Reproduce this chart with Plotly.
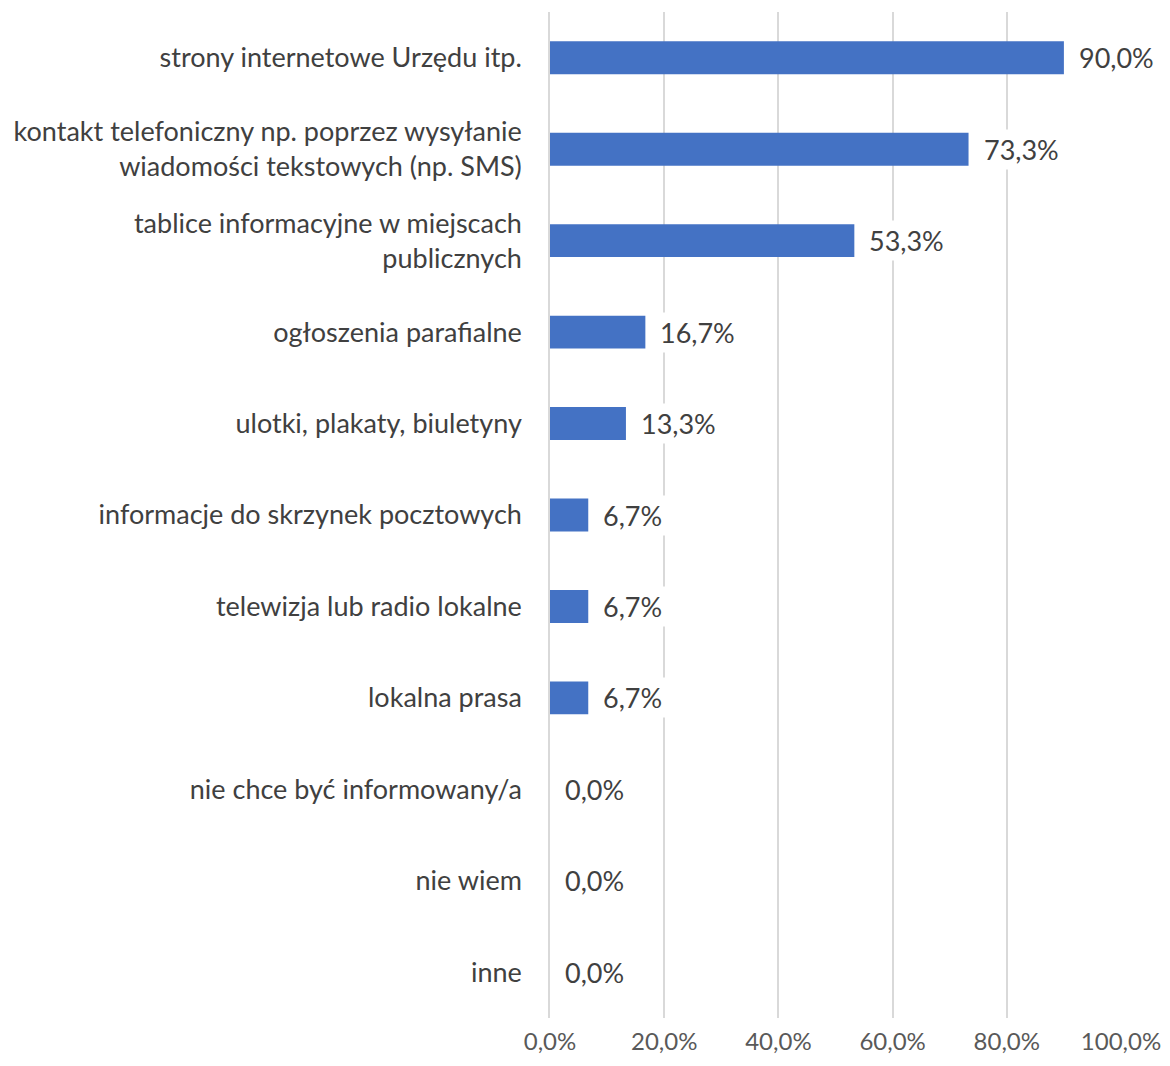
import plotly.graph_objects as go

categories = [
    "strony internetowe Urzędu itp.",
    "kontakt telefoniczny np. poprzez wysyłanie<br>wiadomości tekstowych (np. SMS)",
    "tablice informacyjne w miejscach<br>publicznych",
    "ogłoszenia parafialne",
    "ulotki, plakaty, biuletyny",
    "informacje do skrzynek pocztowych",
    "telewizja lub radio lokalne",
    "lokalna prasa",
    "nie chce być informowany/a",
    "nie wiem",
    "inne",
]
values = [90.0, 73.3, 53.3, 16.7, 13.3, 6.7, 6.7, 6.7, 0.0, 0.0, 0.0]
x_ticks = [0, 20, 40, 60, 80, 100]
x_tick_labels = ["0,0%", "20,0%", "40,0%", "60,0%", "80,0%", "100,0%"]

FONT = "Lato"
SIZE = 27
fig = go.Figure()
fig.add_trace(go.Bar(
    x=values, y=categories, orientation="h",
    marker=dict(color="#4472C4", line=dict(width=0)),
    width=0.36, hoverinfo="skip",
))
for c, v in zip(categories, values):
    fig.add_annotation(
        x=v, y=c, text=f"{v:.1f}%".replace(".", ","), showarrow=False,
        xanchor="left", xshift=11, bgcolor="white", borderpad=3,
        font=dict(family=FONT, size=SIZE, color="#404040"),
    )

fig.update_layout(
    width=1154, height=1050,
    margin=dict(l=542, r=41, t=4, b=40, autoexpand=False),
    plot_bgcolor="white", paper_bgcolor="white",
    showlegend=False,
)
fig.update_xaxes(
    range=[0, 100], tickvals=x_ticks, ticktext=x_tick_labels,
    showgrid=True, gridcolor="#D9D9D9", gridwidth=1.5, zeroline=False,
    showline=False, ticks="", ticklabelstandoff=7, automargin=False,
    ticklabeloverflow="allow",
    tickfont=dict(family=FONT, size=24, color="#595959"),
)
fig.update_yaxes(
    autorange="reversed", showgrid=False, showline=True, linecolor="#D9D9D9", linewidth=1.5,
    ticks="", ticklabelstandoff=21, automargin=False,
    tickfont=dict(family=FONT, size=SIZE, color="#404040"),
)
fig.write_html("out.html")
